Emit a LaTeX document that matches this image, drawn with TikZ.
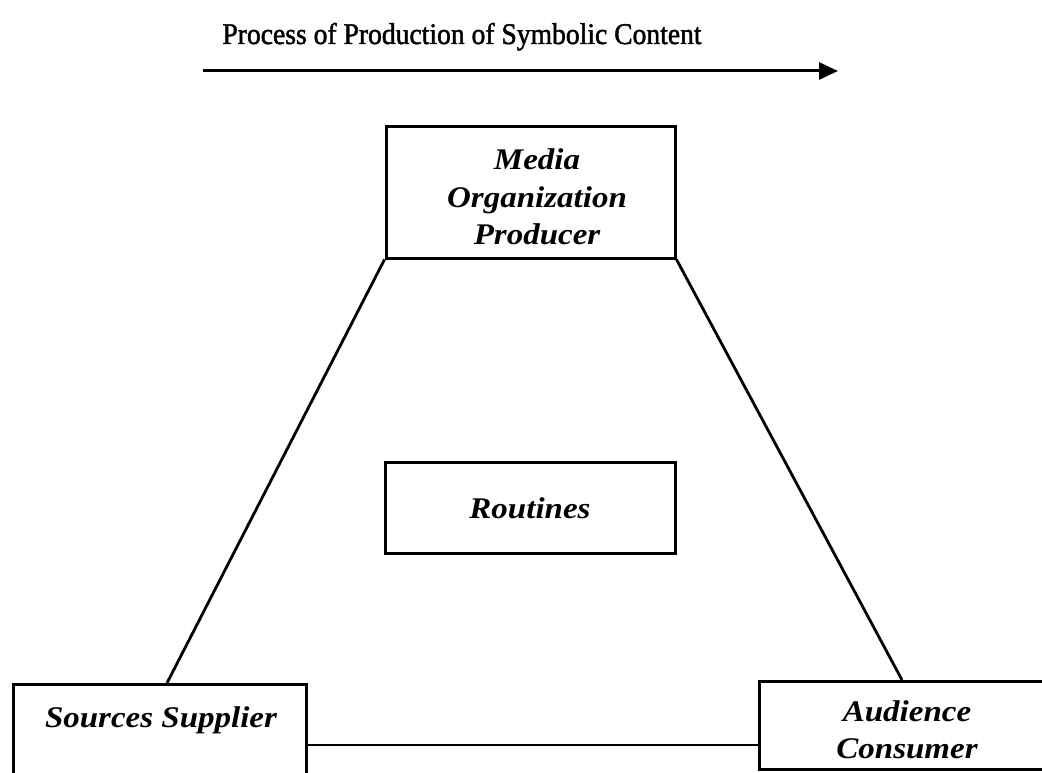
\documentclass[tikz,border=0pt]{standalone}
\usepackage{fontspec}
\setmainfont{Liberation Serif}
\newfontfamily\titlefont{Liberation Serif}[FakeBold=1.5,FakeStretch=0.92]
\newfontfamily\boxfont{Liberation Serif}[FakeStretch=1.1]
\usetikzlibrary{arrows.meta,calc}
\begin{document}
\begin{tikzpicture}[x=1pt,y=-1pt,
  boxtext/.style={align=center,font=\fontsize{30}{37.5}\selectfont\boxfont\bfseries\itshape},
  box/.style={draw=black,line width=3pt,inner sep=0pt,boxtext},
  link/.style={draw=black,line width=2.8pt}]
\useasboundingbox[fill=white] (0,0) rectangle (1042,773);
\clip (0,0) rectangle (1042,773);
% title and arrow
\node[font=\fontsize{30}{34}\selectfont\titlefont,anchor=base] (title) at (462,44) {Process of Production of Symbolic Content};
\coordinate (arrs) at (203,71);
\coordinate (arre) at (838,71);
\draw[line width=3pt,-{Triangle[length=19pt,width=17pt]}] (arrs) -- (arre);
% boxes
\node[box,minimum width=289pt,minimum height=131pt] (media) at (530.5,192.5) {};
\node[boxtext] (mediat) at (537,197) {Media\\Organization\\Producer};
\node[box,minimum width=290pt,minimum height=91pt] (rout) at (530,508) {Routines};
\node[box,minimum width=293pt,minimum height=104pt,anchor=north west] (src) at (12,683) {};
\node[boxtext,anchor=base] (srct) at (161,727) {Sources Supplier};
\node[box,minimum width=298pt,minimum height=88pt,anchor=north west] (aud) at (758,680) {};
\node[boxtext] (audt) at (907,730) {Audience\\Consumer};
% connectors
\coordinate (srctop) at (167,683);
\coordinate (audtop) at (902,680);
\coordinate (hl) at (0,745);
\draw[link] (media.south west) -- (srctop);
\draw[link] (media.south east) -- (audtop);
\draw[link] (src.east |- hl) -- (aud.west |- hl);
\end{tikzpicture}
\end{document}
